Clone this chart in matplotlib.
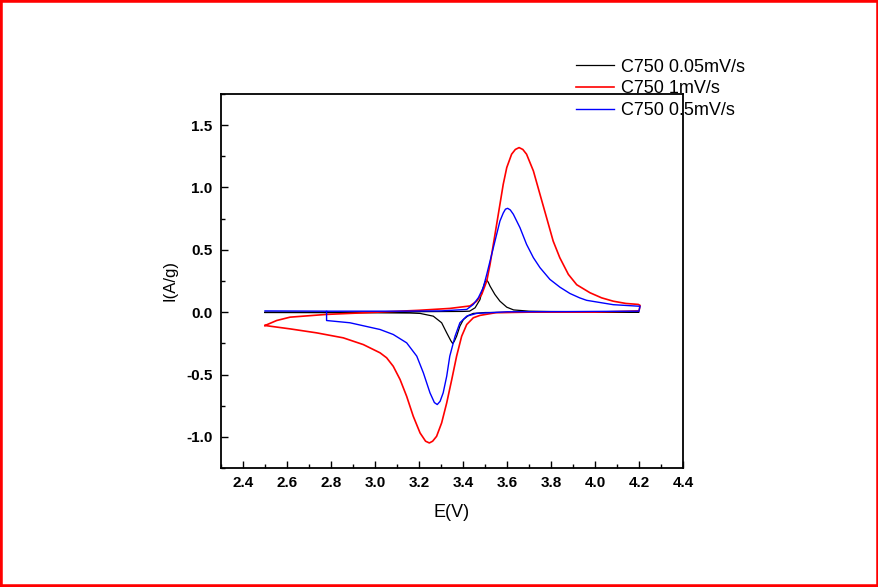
import matplotlib
matplotlib.use("Agg")
import matplotlib.pyplot as plt
from matplotlib.patches import Rectangle
from matplotlib.ticker import MultipleLocator

plt.rcParams['font.family'] = ['Liberation Sans', 'DejaVu Sans']
plt.rcParams['axes.unicode_minus'] = False

# CV curves (sweep order: anodic then cathodic)
e_005 = [2.5, 2.8, 3.1, 3.3, 3.4, 3.43, 3.455, 3.477, 3.49, 3.5, 3.508, 3.515, 3.523,
         3.545, 3.568, 3.599, 3.63, 3.7, 3.8, 4.0, 4.2,
         4.2, 4.0, 3.7, 3.5, 3.447, 3.425, 3.402, 3.386, 3.371, 3.36, 3.353, 3.345,
         3.326, 3.303, 3.265, 3.205, 3.16, 3.0, 2.8, 2.5]
i_005 = [0.0, 0.0, 0.003, 0.005, 0.006, 0.008, 0.035, 0.10, 0.19, 0.24, 0.257, 0.24,
         0.209, 0.142, 0.088, 0.04, 0.018, 0.008, 0.005, 0.003, 0.002,
         0.0, 0.0, -0.001, -0.003, -0.01, -0.026, -0.059, -0.112, -0.193, -0.235,
         -0.251, -0.23, -0.166, -0.085, -0.032, -0.01, -0.007, -0.005, -0.004, -0.003]

e_1 = [2.5, 2.553, 2.614, 2.78, 2.95, 3.2, 3.34, 3.432, 3.462, 3.485, 3.508, 3.523,
       3.538, 3.553, 3.568, 3.583, 3.599, 3.621, 3.638, 3.655, 3.672, 3.689, 3.72,
       3.75, 3.78, 3.81, 3.84, 3.879, 3.917, 3.977, 4.03, 4.083, 4.14, 4.197, 4.205,
       4.2, 4.0, 3.7, 3.55, 3.477, 3.447, 3.417, 3.394, 3.371, 3.349, 3.326, 3.303,
       3.28, 3.262, 3.247, 3.23, 3.205, 3.174, 3.144, 3.114, 3.083, 3.053, 3.023,
       2.947, 2.856, 2.735, 2.614, 2.5]
i_1 = [-0.107, -0.067, -0.04, -0.018, -0.005, 0.015, 0.03, 0.05, 0.088, 0.142, 0.249,
       0.383, 0.544, 0.704, 0.865, 1.026, 1.16, 1.267, 1.305, 1.32, 1.305, 1.267,
       1.133, 0.945, 0.758, 0.57, 0.437, 0.303, 0.22, 0.156, 0.115, 0.088, 0.07,
       0.062, 0.054,
       0.01, 0.0, 0.0, -0.004, -0.026, -0.045, -0.099, -0.193, -0.353, -0.54, -0.728,
       -0.888, -0.996, -1.035, -1.049, -1.035, -0.969, -0.835, -0.675, -0.54, -0.434,
       -0.366, -0.326, -0.26, -0.206, -0.166, -0.134, -0.107]

e_05 = [2.5, 2.8, 3.1, 3.3, 3.417, 3.447, 3.47, 3.492, 3.508, 3.523, 3.538, 3.553,
        3.568, 3.583, 3.593, 3.603, 3.615, 3.629, 3.659, 3.689, 3.72, 3.75, 3.795,
        3.841, 3.886, 3.93, 3.962, 4.083, 4.197, 4.205,
        4.2, 3.9, 3.6, 3.462, 3.417, 3.386, 3.364, 3.34, 3.326, 3.31, 3.296, 3.283,
        3.27, 3.25, 3.22, 3.19, 3.144, 3.083, 3.023, 2.886, 2.78, 2.78]
i_05 = [0.01, 0.008, 0.008, 0.01, 0.022, 0.062, 0.116, 0.196, 0.303, 0.41, 0.517,
        0.624, 0.731, 0.795, 0.826, 0.833, 0.82, 0.785, 0.678, 0.544, 0.437, 0.357,
        0.263, 0.2, 0.15, 0.115, 0.095, 0.06, 0.048, 0.048,
        0.008, 0.005, 0.003, -0.01, -0.032, -0.085, -0.193, -0.353, -0.514, -0.647,
        -0.715, -0.741, -0.725, -0.647, -0.487, -0.353, -0.246, -0.179, -0.139,
        -0.085, -0.067, 0.005]

labels = ["C750 0.05mV/s", "C750 1mV/s", "C750 0.5mV/s"]

fig = plt.figure(figsize=(8.79, 5.87), dpi=100)
ax = fig.add_axes([0.2514, 0.2027, 0.5256, 0.6372])

ax.plot(e_005, i_005, color='black', lw=0.9, label=labels[0])
ax.plot(e_1, i_1, color='red', lw=1.2, label=labels[1])
ax.plot(e_05, i_05, color='blue', lw=1.0, label=labels[2])

ax.set_xlim(2.3, 4.4)
ax.set_ylim(-1.25, 1.75)
ax.xaxis.set_major_locator(MultipleLocator(0.2))
ax.xaxis.set_minor_locator(MultipleLocator(0.1))
ax.yaxis.set_major_locator(MultipleLocator(0.5))
ax.yaxis.set_minor_locator(MultipleLocator(0.25))
ax.tick_params(which='both', direction='in', top=False, right=False, width=1)
ax.tick_params(which='major', length=5, pad=6, labelsize=11)
ax.tick_params(which='minor', length=3)
for lab in ax.get_xticklabels() + ax.get_yticklabels():
    lab.set_fontweight('bold')
for sp in ax.spines.values():
    sp.set_linewidth(1.3)

ax.set_xlabel("E(V)", fontsize=13, labelpad=10)
ax.set_ylabel("I(A/g)", fontsize=12, labelpad=6)

ax.legend(loc='upper left', bbox_to_anchor=(0.637, 0.928),
          bbox_transform=fig.transFigure, frameon=False, fontsize=13,
          handlelength=2.1, handletextpad=0.4, labelspacing=0.27, borderpad=0.4)

# red frame around the whole picture
fig.patches.append(Rectangle((0, 0), 1, 1, transform=fig.transFigure, fill=False,
                             edgecolor='red', lw=4, clip_on=False))

fig.savefig("out.png", dpi=100)
